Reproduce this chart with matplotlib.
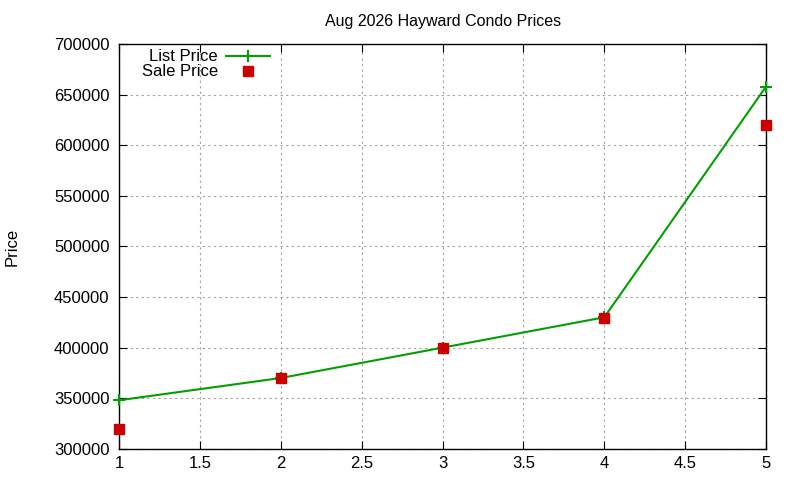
import matplotlib
matplotlib.use('Agg')
import matplotlib.pyplot as plt

plt.rcParams['font.family'] = ['Liberation Sans', 'DejaVu Sans']

bedrooms = [1, 2, 3, 4, 5]
list_price = [348000, 370000, 400000, 430000, 658000]
sale_price = [320000, 370000, 400000, 429000, 620000]

fig = plt.figure(figsize=(8, 4.8), dpi=100)
ax = fig.add_axes([0.149, 0.065, 0.8085, 0.843])

ax.plot(bedrooms, list_price, color='#00a000', lw=1.5, marker='+', ms=9, mew=1.5,
        label='List Price', clip_on=False, zorder=3)
ax.plot(bedrooms, sale_price, ls='none', color='#cc0000', marker='s', ms=7,
        label='Sale Price', clip_on=False, zorder=4)

ax.set_xlim(1, 5)
ax.set_ylim(300000, 700000)
ax.set_xticks([1, 1.5, 2, 2.5, 3, 3.5, 4, 4.5, 5])
ax.set_xticklabels(['1', '1.5', '2', '2.5', '3', '3.5', '4', '4.5', '5'])
ax.set_yticks(range(300000, 700001, 50000))
ax.grid(True, color='#a0a0a0', ls=(0, (2, 3)), lw=0.8)
ax.tick_params(direction='in', top=True, right=True, labelsize=12, length=6)
ax.tick_params(axis='y', pad=7)
ax.tick_params(axis='x', pad=5)
for s in ax.spines.values():
    s.set_linewidth(1.0)

ax.set_title('Aug 2026 Hayward Condo Prices', fontsize=11.5, pad=13)
fig.text(0.015, 0.486, 'Price', rotation=90, fontsize=12, ha='center', va='center')

ax.legend(loc='upper left', bbox_to_anchor=(0.017, 1.016), frameon=False,
          markerfirst=False, fontsize=12, handlelength=2.6, handletextpad=0.5,
          labelspacing=0.0, borderaxespad=0.3)

fig.savefig('out.png', dpi=100)
